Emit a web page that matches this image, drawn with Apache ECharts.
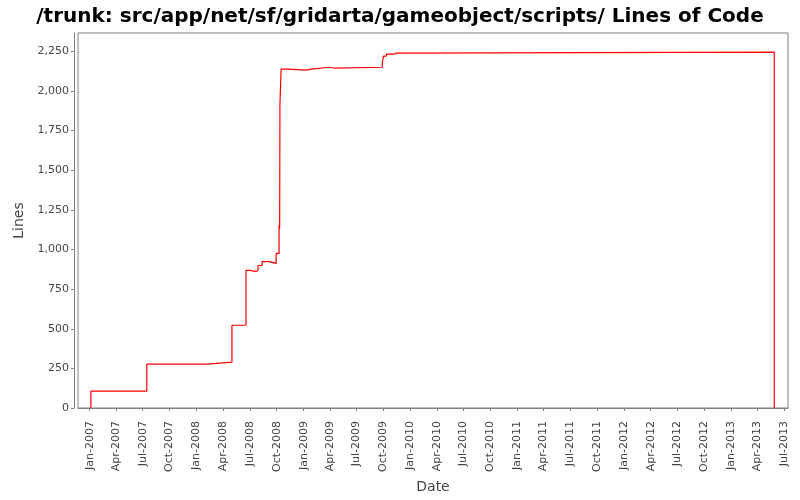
<!DOCTYPE html>
<html>
<head>
<meta charset="utf-8">
<script src="https://cdn.jsdelivr.net/npm/echarts@6/dist/echarts.min.js"></script>
<style>
html,body{margin:0;padding:0;background:#fff;}
#chart{width:800px;height:500px;}
</style>
</head>
<body>
<div id="chart"></div>
<script>
// ---- data ----
const stepDates = [
  '2007-01-05','2007-01-05','2007-07-15','2008-02-09','2008-05-01','2008-06-18',
  '2008-07-02','2008-07-22','2008-07-29','2008-08-12','2008-09-05','2008-09-29',
  '2008-10-09','2008-10-11','2008-10-12','2008-10-16','2008-11-10','2009-01-07',
  '2009-01-28','2009-03-27','2009-03-29','2009-04-15','2009-09-27','2009-10-01',
  '2009-10-11','2009-11-07','2009-11-14','2013-05-28','2013-05-28'
];
const linesOfCode = [
  0,107,277,289,522,868,
  861,868,899,924,912,975,
  1153,1132,1918,2138,2132,2138,
  2150,2157,2145,2150,2182,2220,
  2233,2239,2245,2245,0
];
const yTickValues = [0,250,500,750,1000,1250,1500,1750,2000,2250];
const xTickDates = [
  '2007-01-01','2007-04-01','2007-07-01','2007-10-01',
  '2008-01-01','2008-04-01','2008-07-01','2008-10-01',
  '2009-01-01','2009-04-01','2009-07-01','2009-10-01',
  '2010-01-01','2010-04-01','2010-07-01','2010-10-01',
  '2011-01-01','2011-04-01','2011-07-01','2011-10-01',
  '2012-01-01','2012-04-01','2012-07-01','2012-10-01',
  '2013-01-01','2013-04-01','2013-07-01'
];
const axisMinDate = '2006-11-22';
const axisMaxDate = '2013-07-14';
const yMax = 2366;
const monthNames = ['Jan','Feb','Mar','Apr','May','Jun','Jul','Aug','Sep','Oct','Nov','Dec'];

function ts(s){ const p = s.split('-').map(Number); return Date.UTC(p[0], p[1]-1, p[2]); }
// value holds until the next change (step after each point)
const seriesData = [];
stepDates.forEach((d,i)=>{
  const t = ts(d);
  if (i > 0) seriesData.push([t, linesOfCode[i-1]]);
  seriesData.push([t, linesOfCode[i]]);
});
const xTicks = xTickDates.map(ts);

const chart = echarts.init(document.getElementById('chart'), null, {renderer:'canvas'});
const fontFam = '"DejaVu Sans", sans-serif';
const axisColor = '#808080';
const textColor = '#444444';

chart.setOption({
  animation:false,
  backgroundColor:'#ffffff',
  title:{
    text:'/trunk: src/app/net/sf/gridarta/gameobject/scripts/ Lines of Code',
    left:'center', top:2,
    textStyle:{fontFamily:fontFam, fontWeight:'bold', fontSize:20, color:'#000000'}
  },
  grid:{left:78, right:12, top:33, bottom:92, show:true, borderColor:axisColor, borderWidth:1, backgroundColor:'#ffffff'},
  xAxis:{
    type:'value',
    min:ts(axisMinDate), max:ts(axisMaxDate),
    offset:4,
    name:'Date', nameLocation:'middle', nameGap:67,
    nameTextStyle:{fontFamily:fontFam, fontSize:14, color:textColor},
    axisLine:{show:true, lineStyle:{color:axisColor, width:1}},
    axisTick:{show:true, length:3, customValues:xTicks, lineStyle:{color:axisColor}},
    axisLabel:{
      customValues:xTicks, rotate:90, margin:9,
      fontFamily:fontFam, fontSize:11, color:textColor,
      formatter:function(v){ const d=new Date(v); return monthNames[d.getUTCMonth()]+'-'+d.getUTCFullYear(); }
    },
    splitLine:{show:false}
  },
  yAxis:{
    type:'value',
    min:0, max:yMax,
    offset:4,
    name:'Lines', nameLocation:'middle', nameGap:47, nameRotate:90,
    nameTextStyle:{fontFamily:fontFam, fontSize:14, color:textColor},
    axisLine:{show:true, lineStyle:{color:axisColor, width:1}},
    axisTick:{show:true, length:3, customValues:yTickValues, lineStyle:{color:axisColor}},
    axisLabel:{
      customValues:yTickValues, margin:5,
      fontFamily:fontFam, fontSize:11, color:textColor,
      formatter:function(v){ return v.toLocaleString('en-US'); }
    },
    splitLine:{show:false}
  },
  series:[{
    type:'line', data:seriesData,
    showSymbol:false, symbol:'none',
    lineStyle:{color:'#ff0000', width:1.2},
    itemStyle:{color:'#ff0000'}
  }]
});
</script>
</body>
</html>
